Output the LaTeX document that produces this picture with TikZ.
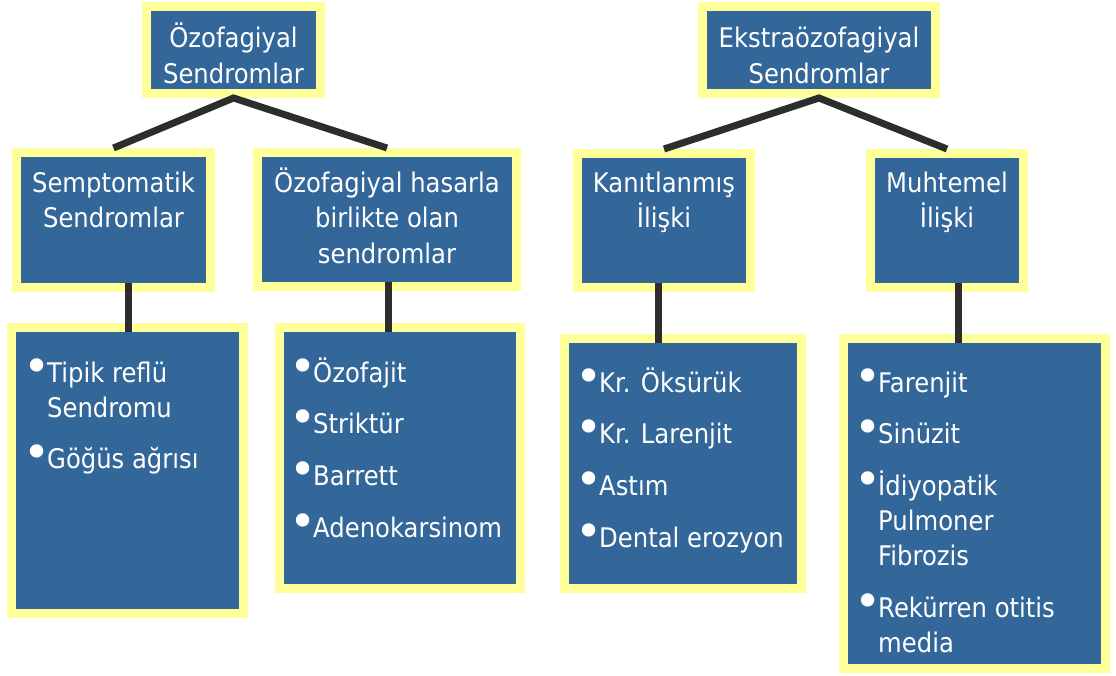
\documentclass[tikz,border=0pt]{standalone}
\usepackage{fontspec}
\setmainfont{DejaVu Sans}[FakeStretch=0.9]
\newfontfamily\bulfont{DejaVu Sans}

\definecolor{boxblue}{RGB}{51,102,153}
\definecolor{boxrim}{RGB}{255,255,153}
\definecolor{linegray}{RGB}{45,45,45}

\newcommand{\hdr}[1]{\parbox[t]{300pt}{\fontsize{27}{35.5}\selectfont\centering #1}}
\newcommand{\blist}[1]{\parbox[t]{260pt}{\fontsize{27}{35}\selectfont\raggedright\setlength{\parskip}{16.7pt}#1}}
\newcommand{\bitem}[1]{\par\hangindent=21pt\hangafter=1\noindent\makebox[21pt]{\raisebox{0pt}{\bulfont\fontsize{46}{46}\selectfont\textbullet}}#1}

\begin{document}
\begin{tikzpicture}[x=1pt,y=-1pt,
    box/.style={draw=boxrim,line width=9pt,fill=boxblue,outer sep=4.5pt,inner sep=0pt},
    txt/.style={text=white,inner sep=0pt},
    conn/.style={draw=linegray,line width=7pt},
    stem/.style={conn,shorten <=-9pt,shorten >=-9pt}]
\useasboundingbox (0,0) rectangle (1116,675);
% kutular
\node[box,minimum width=174pt,minimum height=87pt] (ozo) at (233.5,50) {};
\node[box,minimum width=233pt,minimum height=87pt] (ekstra) at (819,50) {};
\node[box,minimum width=194pt,minimum height=135pt] (semp) at (113.5,220) {};
\node[box,minimum width=259pt,minimum height=134pt] (hasar) at (387,219.5) {};
\node[box,minimum width=173pt,minimum height=134pt] (kanit) at (664,220.5) {};
\node[box,minimum width=153pt,minimum height=134pt] (muht) at (947,220.5) {};
\node[box,minimum width=232pt,minimum height=286pt] (sempL) at (127.5,470.5) {};
\node[box,minimum width=241pt,minimum height=261pt] (hasarL) at (400,458) {};
\node[box,minimum width=237pt,minimum height=250pt] (kanitL) at (683,463.5) {};
\node[box,minimum width=262pt,minimum height=330pt] (muhtL) at (974.5,503.5) {};
% basliklar
\node[txt,anchor=base] (ozo-t) at (233.5,47.5) {\hdr{Özofagiyal\\Sendromlar}};
\node[txt,anchor=base] (ekstra-t) at (819,47.5) {\hdr{Ekstraözofagiyal\\Sendromlar}};
\node[txt,anchor=base] (semp-t) at (113.5,192) {\hdr{Semptomatik\\Sendromlar}};
\node[txt,anchor=base] (hasar-t) at (387,192) {\hdr{Özofagiyal hasarla\\birlikte olan\\sendromlar}};
\node[txt,anchor=base] (kanit-t) at (664,192) {\hdr{Kanıtlanmış\\İlişki}};
\node[txt,anchor=base] (muht-t) at (947,192) {\hdr{Muhtemel\\İlişki}};
% listeler
\node[txt,anchor=base west] (sempL-t) at (26,382) {\blist{\bitem{Tipik reflü\newline Sendromu}\bitem{Göğüs ağrısı}}};
\node[txt,anchor=base west] (hasarL-t) at (292,382) {\blist{\bitem{Özofajit}\bitem{Striktür}\bitem{Barrett}\bitem{Adenokarsinom}}};
\node[txt,anchor=base west] (kanitL-t) at (578,392) {\blist{\bitem{Kr. Öksürük}\bitem{Kr. Larenjit}\bitem{Astım}\bitem{Dental erozyon}}};
\node[txt,anchor=base west] (muhtL-t) at (857,392) {\blist{\bitem{Farenjit}\bitem{Sinüzit}\bitem{İdiyopatik\newline Pulmoner\newline Fibrozis}\bitem{Rekürren otitis\newline media}}};
% baglantilar
\draw[conn] (semp.north) -- (ozo.south) -- (hasar.north);
\draw[conn] (kanit.north) -- (ekstra.south) -- (muht.north);
\coordinate (s1) at ([xshift=14.5pt]semp.south);
\coordinate (s2) at ([xshift=1pt]hasar.south);
\coordinate (s3) at ([xshift=-6pt]kanit.south);
\coordinate (s4) at ([xshift=11pt]muht.south);
\draw[stem] (s1) -- (s1 |- sempL.north);
\draw[stem] (s2) -- (s2 |- hasarL.north);
\draw[stem] (s3) -- (s3 |- kanitL.north);
\draw[stem] (s4) -- (s4 |- muhtL.north);
\end{tikzpicture}
\end{document}
